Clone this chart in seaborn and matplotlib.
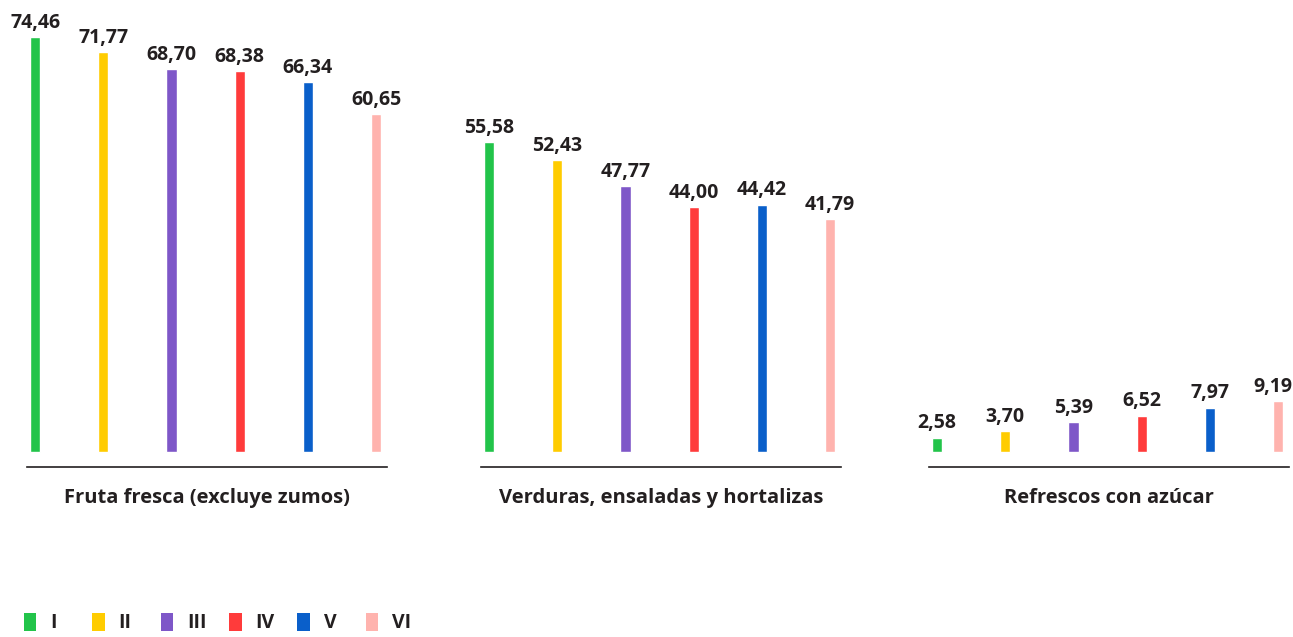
import pandas as pd
import seaborn as sns
import matplotlib.pyplot as plt
from matplotlib.patches import Patch

quintiles = ['I', 'II', 'III', 'IV', 'V', 'VI']
groups = ['Fruta fresca (excluye zumos)',
          'Verduras, ensaladas y hortalizas',
          'Refrescos con azúcar']
fruta = [74.46, 71.77, 68.70, 68.38, 66.34, 60.65]
verduras = [55.58, 52.43, 47.77, 44.00, 44.42, 41.79]
refrescos = [2.58, 3.70, 5.39, 6.52, 7.97, 9.19]
colors = ['#22c44a', '#ffcc00', '#7e57c8', '#ff3b3b', '#0a5fca', '#ffb3ae']

TEXT = '#231f20'

sns.set_theme(style='white')
plt.rcParams['font.family'] = ['Open Sans', 'DejaVu Sans']

rows = []
for g, vals in zip(groups, [fruta, verduras, refrescos]):
    for q, v in zip(quintiles, vals):
        rows.append((g, q, v))
df = pd.DataFrame(rows, columns=['grupo', 'quintil', 'valor'])
palette = dict(zip(quintiles, colors))

fig = plt.figure(figsize=(12.93, 6.37), dpi=100)
lefts = [27, 481, 929]
for k, (left, g) in enumerate(zip(lefts, groups)):
    ax = fig.add_axes([left / 1293, 0.2669, 360 / 1293, 0.7231])
    sub = df[df['grupo'] == g]
    sns.barplot(data=sub, x='quintil', y='valor', hue='quintil', order=quintiles,
                hue_order=quintiles, palette=palette, width=0.15, legend=False,
                saturation=1, ax=ax)
    ax.set_xlim(-0.12, 5.16)
    ax.set_ylim(-2.7, 80)
    for j, p in enumerate(ax.patches):
        h = p.get_height()
        # keep the last label of the chart inside the image
        dx = -4 if (k == 2 and j == len(ax.patches) - 1) else 0
        ax.annotate(f'{h:.2f}'.replace('.', ','), (p.get_x() + p.get_width() / 2, h),
                    xytext=(dx, 3), textcoords='offset points', ha='center', va='bottom',
                    fontsize=14, fontweight='bold', color=TEXT)
    sns.despine(ax=ax, left=True)
    ax.spines['bottom'].set_color(TEXT)
    ax.spines['bottom'].set_linewidth(1.2)
    ax.set_yticks([])
    ax.set_xticks([])
    ax.set_xlabel(g, fontsize=14.5, fontweight='bold', color=TEXT, labelpad=15)
    ax.set_ylabel('')

# one legend entry per quintile, evenly spaced like the original
for i, (q, c) in enumerate(zip(quintiles, colors)):
    leg = fig.legend([Patch(facecolor=c, edgecolor='none')], [q], loc='center left',
                     bbox_to_anchor=((14 + 68.4 * i) / 1293, 0.022), frameon=False,
                     handlelength=0.65, handleheight=1.1, handletextpad=0.7,
                     borderpad=0, prop={'weight': 'bold', 'size': 14})
    leg.get_texts()[0].set_color(TEXT)

fig.savefig('out.png', dpi=100)
